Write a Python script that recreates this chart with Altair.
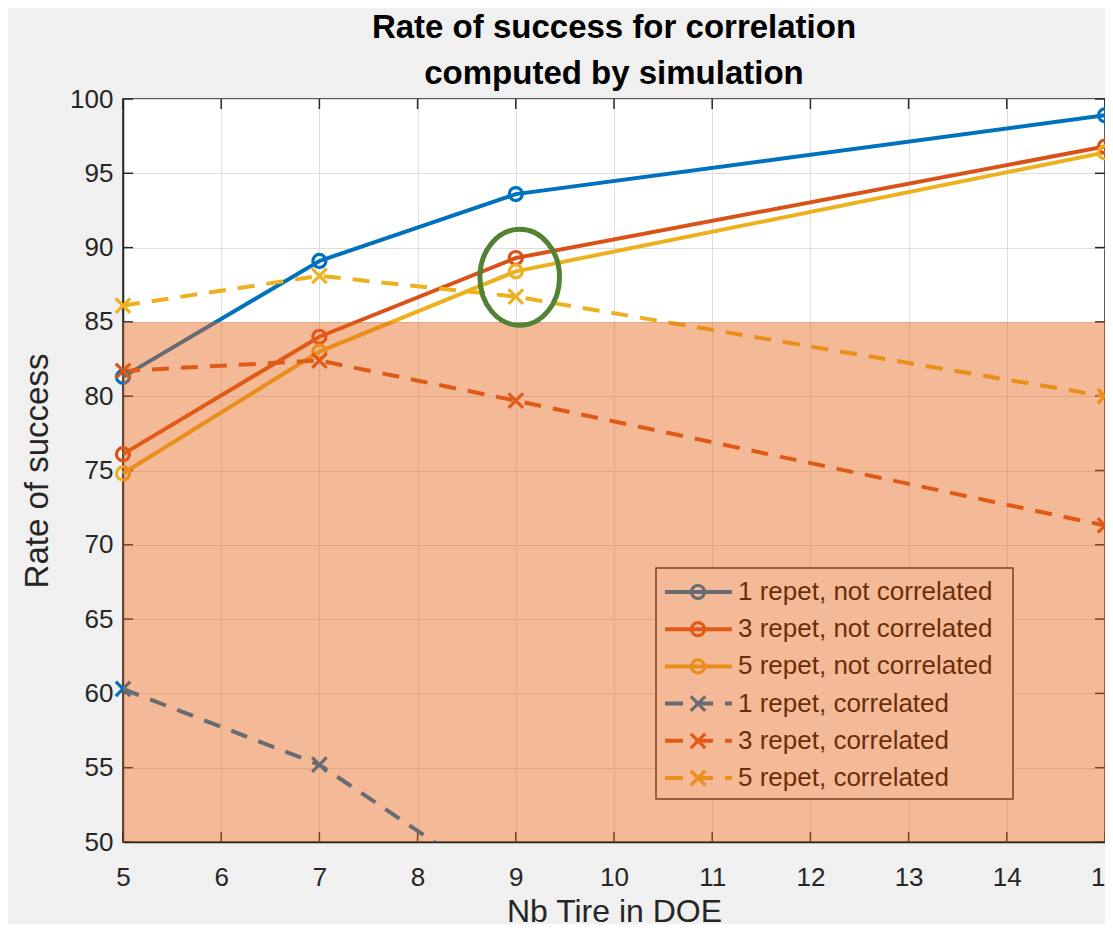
import altair as alt
import pandas as pd

# ---------------- data ----------------
x_vals = [5, 7, 9, 15]
series_names = [
    "1 repet, not correlated",
    "3 repet, not correlated",
    "5 repet, not correlated",
    "1 repet, correlated",
    "3 repet, correlated",
    "5 repet, correlated",
]
rep1_nc = [81.3, 89.1, 93.6, 98.9]
rep3_nc = [76.1, 84.0, 89.3, 96.8]
rep5_nc = [74.8, 83.0, 88.4, 96.4]
rep1_c = [60.3, 55.2, 46.3, 38.0]
rep3_c = [81.7, 82.4, 79.7, 71.3]
rep5_c = [86.1, 88.1, 86.7, 80.0]
series_values = [rep1_nc, rep3_nc, rep5_nc, rep1_c, rep3_c, rep5_c]
series_correlated = [False, False, False, True, True, True]
series_colors = ["#0072BD", "#D95319", "#EDB120", "#0072BD", "#D95319", "#EDB120"]

x_ticks = list(range(5, 16))
y_ticks = list(range(50, 101, 5))
shade_x = [5, 15]
shade_y = [50, 85]
highlight_x = [9.04]
highlight_y = [88.0]

title_lines = ["Rate of success for correlation", "computed by simulation"]
x_title = "Nb Tire in DOE"
y_title = "Rate of success"

# ---------------- layout constants ----------------
W, H = 982, 743
FONT = "Liberation Sans"
TXT = "#262626"
LW = 4

rows = []
for name, vals, corr in zip(series_names, series_values, series_correlated):
    for xv, yv in zip(x_vals, vals):
        rows.append({"series": name, "x": xv, "y": yv, "corr": corr})
df = pd.DataFrame(rows)
df_nc = df[~df["corr"]]
df_c = df[df["corr"]]
df_c_vis = df_c[df_c["y"] >= 50]

xs = alt.Scale(domain=[x_ticks[0], x_ticks[-1]], nice=False, zero=False)
ys = alt.Scale(domain=[y_ticks[0], y_ticks[-1]], nice=False, zero=False)

X = alt.X(
    "x:Q",
    scale=xs,
    axis=alt.Axis(
        values=x_ticks, title=x_title, format="d", ticks=False, labelFlush=False,
        labelOverlap=False, labelPadding=22, labelFontSize=26, labelFont=FONT,
        labelColor=TXT, domainColor=TXT, domainWidth=1.5, gridColor="#DEDEDE",
        gridWidth=1, titleFont=FONT, titleFontSize=32, titleFontWeight="normal",
        titleColor=TXT, titleY=79, titleBaseline="alphabetic",
    ),
)
Y = alt.Y(
    "y:Q",
    scale=ys,
    axis=alt.Axis(
        values=y_ticks, title=y_title, format="d", ticks=False, labelFlush=False,
        labelOverlap=False, labelPadding=10, labelFontSize=26, labelFont=FONT,
        labelColor=TXT, domainColor=TXT, domainWidth=1.5, gridColor="#DEDEDE",
        gridWidth=1, titleFont=FONT, titleFontSize=33, titleFontWeight="normal",
        titleColor=TXT, titleX=-76, titleY=H / 2, titleBaseline="alphabetic",
        titleAngle=270, titleAlign="center",
    ),
)
color = alt.Color(
    "series:N", scale=alt.Scale(domain=series_names, range=series_colors), legend=None
)

X_PATH = "M-1,-1L1,1M-1,1L1,-1"
CIRC_SIZE = 170
X_SIZE = 210

lines_nc = alt.Chart(df_nc).mark_line(strokeWidth=LW).encode(x=X, y=Y, color=color, detail="series:N")
lines_c = alt.Chart(df_c).mark_line(strokeWidth=LW, strokeDash=[17, 12], clip=True).encode(
    x=X, y=Y, color=color, detail="series:N"
)
pts_nc = alt.Chart(df_nc).mark_point(shape="circle", filled=False, size=CIRC_SIZE, strokeWidth=3.2, opacity=1).encode(
    x=X, y=Y, color=color
)
pts_c = alt.Chart(df_c_vis).mark_point(shape=X_PATH, filled=False, size=X_SIZE, strokeWidth=3.2, opacity=1).encode(
    x=X, y=Y, color=color
)

# inward ticks (MATLAB style)
xt = pd.DataFrame({"x": x_ticks})
yt = pd.DataFrame({"y": y_ticks})
TL = 10
tick_top = alt.Chart(xt).mark_rule(color=TXT, strokeWidth=1.5).encode(x=X, y=alt.value(0), y2=alt.value(TL))
tick_bot = alt.Chart(xt).mark_rule(color=TXT, strokeWidth=1.5).encode(x=X, y=alt.value(H - TL), y2=alt.value(H))
tick_left = alt.Chart(yt).mark_rule(color=TXT, strokeWidth=1.5).encode(y=Y, x=alt.value(0), x2=alt.value(TL))
tick_right = alt.Chart(yt).mark_rule(color=TXT, strokeWidth=1.5).encode(y=Y, x=alt.value(W - TL), x2=alt.value(W))

# manual legend (drawn under the shaded overlay)
LX0, LX1, LY0, LY1 = 533, 890, 469, 700
legend_layers = [
    alt.Chart(pd.DataFrame({"k": [0]})).mark_rect(fill="white", stroke=TXT, strokeWidth=1.5).encode(
        x=alt.value(LX0), x2=alt.value(LX1), y=alt.value(LY0), y2=alt.value(LY1)
    )
]
for i, (name, col, corr) in enumerate(zip(series_names, series_colors, series_correlated)):
    ly = 493 + i * 37.2
    d1 = pd.DataFrame({"label": [name]})
    rule_kw = dict(color=col, strokeWidth=LW)
    if corr:
        rule_kw["strokeDash"] = [18, 12]
    legend_layers.append(
        alt.Chart(d1).mark_rule(**rule_kw).encode(x=alt.value(542), x2=alt.value(609), y=alt.value(ly))
    )
    if corr:
        mk = alt.Chart(d1).mark_point(shape=X_PATH, filled=False, size=X_SIZE, strokeWidth=3.2, color=col, opacity=1)
    else:
        mk = alt.Chart(d1).mark_point(shape="circle", filled=False, size=CIRC_SIZE, strokeWidth=3.2, color=col, opacity=1)
    legend_layers.append(mk.encode(x=alt.value(575), y=alt.value(ly)))
    legend_layers.append(
        alt.Chart(d1).mark_text(align="left", baseline="middle", font=FONT, fontSize=26, color="#000000").encode(
            x=alt.value(615), y=alt.value(ly), text="label:N"
        )
    )

# shaded overlay region
shade = pd.DataFrame({"x": [shade_x[0]], "x2": [shade_x[1]], "y": [shade_y[0]], "y2": [shade_y[1]]})
overlay = alt.Chart(shade).mark_rect(color="#E76316", opacity=0.45).encode(
    x=X, x2="x2:Q", y=Y, y2="y2:Q"
)

# highlight ellipse
ELLIPSE = "M-0.83,0A0.83,1,0,1,1,0.83,0A0.83,1,0,1,1,-0.83,0Z"
hl = pd.DataFrame({"x": highlight_x, "y": highlight_y})
ellipse = alt.Chart(hl).mark_point(
    shape=ELLIPSE, filled=False, size=9216, strokeWidth=5, color="#548235", opacity=1
).encode(x=X, y=Y)

chart = alt.layer(
    tick_top, tick_bot, tick_left, tick_right,
    lines_nc, lines_c, pts_nc, pts_c,
    *legend_layers,
    overlay,
    ellipse,
).properties(
    width=W,
    height=H,
    padding={"left": 115, "top": 91, "right": 0, "bottom": 82},
    autosize=alt.AutoSizeParams(type="none"),
    background="#F0F0F0",
    title=alt.TitleParams(
        text=title_lines, font=FONT, fontSize=33, fontWeight="bold", color="#000000",
        lineHeight=46, offset=6, dy=11, anchor="middle",
    ),
).configure_view(fill="white", stroke=TXT, strokeWidth=1.5)

chart.save("out.html", embed_options={"renderer": "svg", "actions": False})
